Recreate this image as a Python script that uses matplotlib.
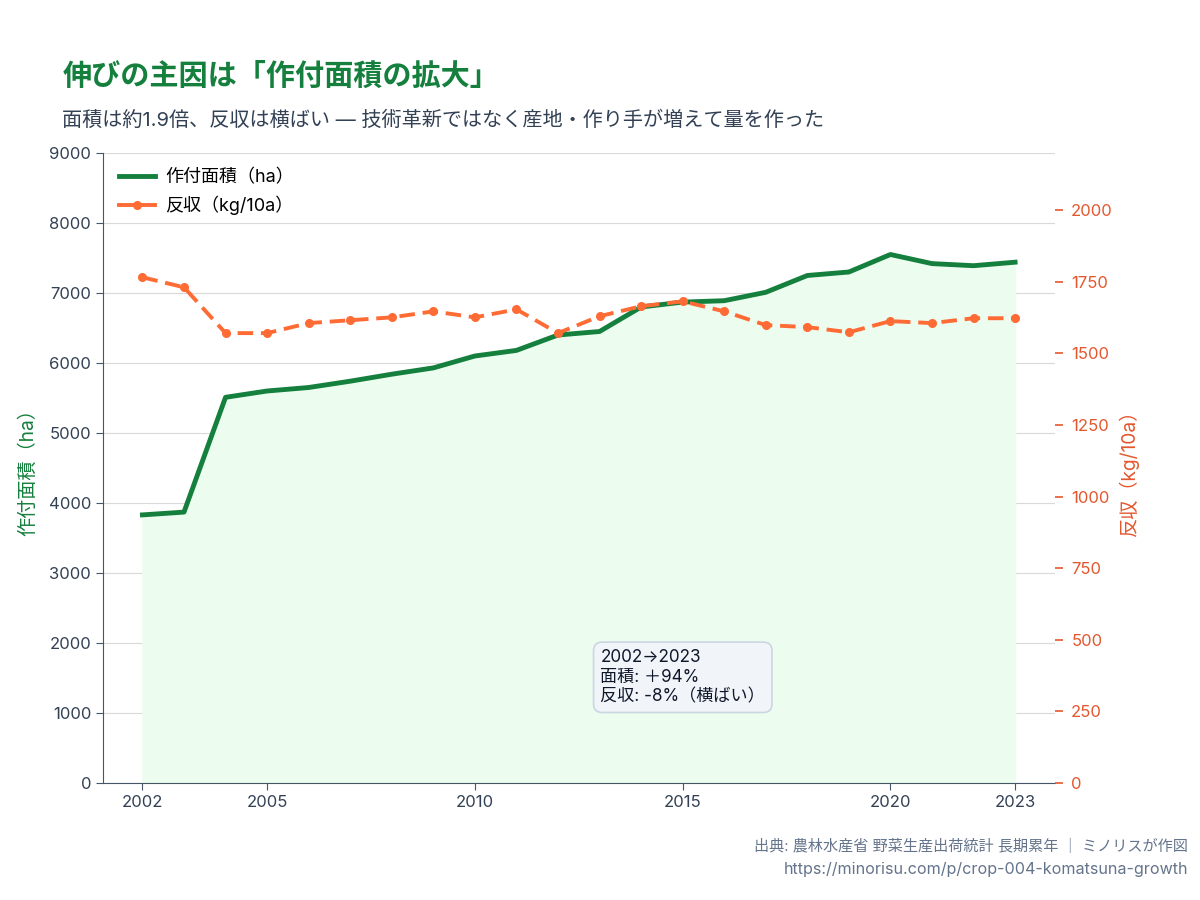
import matplotlib
matplotlib.use('Agg')
import matplotlib.pyplot as plt
from matplotlib.lines import Line2D

plt.rcParams['font.family'] = ['Inter', 'Noto Sans CJK JP', 'DejaVu Sans']

years = list(range(2002, 2024))
area = [3830, 3870, 5510, 5600, 5650, 5740, 5840, 5930, 6100, 6180, 6400,
        6450, 6800, 6870, 6890, 7010, 7250, 7300, 7550, 7420, 7390, 7440]
yield_ = [1766, 1731, 1571, 1571, 1606, 1616, 1626, 1647, 1626, 1654, 1571,
          1630, 1665, 1682, 1647, 1599, 1592, 1574, 1613, 1606, 1623, 1623]
xticks = [2002, 2005, 2010, 2015, 2020, 2023]

green = '#15803d'
orange = '#ff6b35'
red_axis = '#e4572e'
dark = '#334155'

fig = plt.figure(figsize=(12, 9), dpi=100)
ax = fig.add_axes([0.0858, 0.13, 0.793, 0.70])
ax2 = ax.twinx()

ax.fill_between(years, area, color='#ecfdf0', zorder=1)
ax.plot(years, area, color=green, lw=3.5, zorder=3)
ax2.plot(years, yield_, color=orange, lw=2.8, ls=(0, (4, 2)), marker='o', ms=5.5)

ax.set_xlim(2001.05, 2023.95)
ax.set_ylim(0, 9000)
ax2.set_ylim(0, 2200)
ax.set_xticks(xticks)
ax.set_yticks(range(0, 9001, 1000))
ax2.set_yticks(range(0, 2001, 250))

ax.grid(axis='y', color='#d9d9d9', lw=0.8)
ax.set_axisbelow(True)
for s in ['top', 'right']:
    ax.spines[s].set_visible(False)
for s in ['top', 'right', 'left', 'bottom']:
    ax2.spines[s].set_visible(False)
ax.spines['left'].set_color('#475569')
ax.spines['bottom'].set_color('#475569')

ax.tick_params(axis='both', labelsize=12, colors=dark, length=5)
ax.tick_params(axis='both', color='#475569')
ax2.tick_params(axis='y', labelsize=12, colors=red_axis, length=6, width=1.2, pad=6)

ax.set_ylabel('作付面積（ha）', color=green, fontsize=13.8, labelpad=8)
ax2.set_ylabel('反収（kg/10a）', color=red_axis, fontsize=13.8, labelpad=4)

h1 = Line2D([], [], color=green, lw=3.5)
h2 = Line2D([], [], color=orange, lw=2.8, marker='o', ms=5.5)
ax.legend([h1, h2], ['作付面積（ha）', '反収（kg/10a）'], loc='upper left',
          frameon=False, fontsize=13, handlelength=2.0, handletextpad=0.55,
          bbox_to_anchor=(0.0, 1.0))

ax.text(2013.02, 1510, '2002→2023\n面積: ＋94%\n反収: -8%（横ばい）', fontsize=12.3,
        color='#0f172a', va='center', ha='left', linespacing=1.22, zorder=5,
        bbox=dict(boxstyle='round,pad=0.4,rounding_size=0.5', fc='#f1f5f9',
                  ec='#cbd5e1', lw=1.2))

fig.text(0.052, 0.915, '伸びの主因は「作付面積の拡大」', fontsize=21, fontweight='bold',
         color=green, va='center')
fig.text(0.052, 0.867, '面積は約1.9倍、反収は横ばい — 技術革新ではなく産地・作り手が増えて量を作った',
         fontsize=14.5, color=dark, va='center')
fig.text(0.99, 0.059, '出典: 農林水産省 野菜生産出荷統計 長期累年 ｜ ミノリスが作図',
         fontsize=10.9, color='#64748b', ha='right', va='center')
fig.text(0.99, 0.034, 'https://minorisu.com/p/crop-004-komatsuna-growth',
         fontsize=11.6, color='#64748b', ha='right', va='center')

fig.savefig('out.png', dpi=100)
